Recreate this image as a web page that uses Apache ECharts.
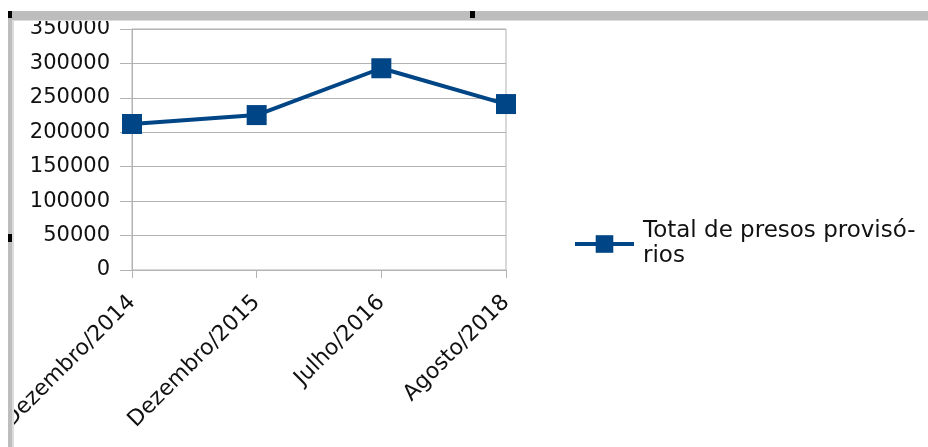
<!DOCTYPE html>
<html>
<head>
<meta charset="utf-8">
<script src="https://cdn.jsdelivr.net/npm/echarts@6/dist/echarts.min.js"></script>
<style>
  html, body { margin: 0; padding: 0; background: #fff; }
  #chart { width: 928px; height: 447px; }
</style>
</head>
<body>
<div id="chart"></div>
<script>
// Provisional prisoners in Brazil, by survey date
const categories = ['Dezembro/2014', 'Dezembro/2015', 'Julho/2016', 'Agosto/2018'];
const seriesName = 'Total de presos provisó-\nrios';
const totals = [212000, 225000, 293000, 241000];
const yTicks = { min: 0, max: 350000, interval: 50000 };

const chart = echarts.init(document.getElementById('chart'), null, { renderer: 'canvas' });

const axisGrey = '#b3b3b3';
const fontFamily = '"DejaVu Sans", "Liberation Sans", sans-serif';

chart.setOption({
  animation: false,
  backgroundColor: '#ffffff',
  grid: {
    left: 132, right: 422, top: 29, bottom: 177,
    outerBoundsMode: 'none',
    containLabel: false,
    show: true, borderColor: axisGrey, borderWidth: 1, backgroundColor: 'transparent'
  },
  legend: {
    left: 568, top: 214,
    itemWidth: 59, itemHeight: 22,
    data: [seriesName],
    lineStyle: { width: 4 },
    textStyle: {
      fontFamily, fontSize: 23, color: '#111', lineHeight: 25,
      padding: [0, 0, 0, 4]
    }
  },
  xAxis: {
    type: 'category',
    data: categories,
    boundaryGap: false,
    axisLine: { lineStyle: { color: axisGrey, width: 1 } },
    axisTick: { show: true, length: 8, lineStyle: { color: axisGrey } },
    splitLine: { show: false },
    axisLabel: {
      rotate: 45, margin: 29, interval: 0,
      fontFamily, fontSize: 22, color: '#111'
    }
  },
  yAxis: {
    type: 'value',
    min: yTicks.min, max: yTicks.max, interval: yTicks.interval,
    axisLine: { show: true, lineStyle: { color: axisGrey, width: 1 } },
    axisTick: { show: true, length: 12, lineStyle: { color: axisGrey } },
    splitLine: { show: true, lineStyle: { color: axisGrey, width: 1 } },
    axisLabel: {
      margin: 22, fontFamily, fontSize: 21, color: '#111',
      formatter: (v) => String(v)
    }
  },
  series: [{
    name: seriesName,
    type: 'line',
    data: totals,
    symbol: 'rect',
    symbolSize: 20,
    lineStyle: { color: '#004586', width: 4 },
    itemStyle: { color: '#004586' },
    z: 3
  }],
  graphic: [
    // window frame: margin outside the frame, top and left bars, selection handles
    { type: 'rect', z: 100, shape: { x: 0, y: 0, width: 14, height: 447 }, style: { fill: '#ffffff' } },
    { type: 'rect', z: 100, shape: { x: 8, y: 11, width: 920, height: 9 }, style: { fill: '#bdbdbd' } },
    { type: 'rect', z: 100, shape: { x: 8, y: 20, width: 920, height: 1 }, style: { fill: '#dcdcdc' } },
    { type: 'rect', z: 100, shape: { x: 8, y: 11, width: 4, height: 436 }, style: { fill: '#bdbdbd' } },
    { type: 'rect', z: 100, shape: { x: 12, y: 20, width: 2, height: 427 }, style: { fill: '#dcdcdc' } },
    { type: 'rect', z: 101, shape: { x: 8, y: 11, width: 4, height: 7 }, style: { fill: '#000' } },
    { type: 'rect', z: 101, shape: { x: 470, y: 11, width: 5, height: 7 }, style: { fill: '#000' } },
    { type: 'rect', z: 101, shape: { x: 8, y: 234, width: 4, height: 8 }, style: { fill: '#000' } }
  ]
});
</script>
</body>
</html>
